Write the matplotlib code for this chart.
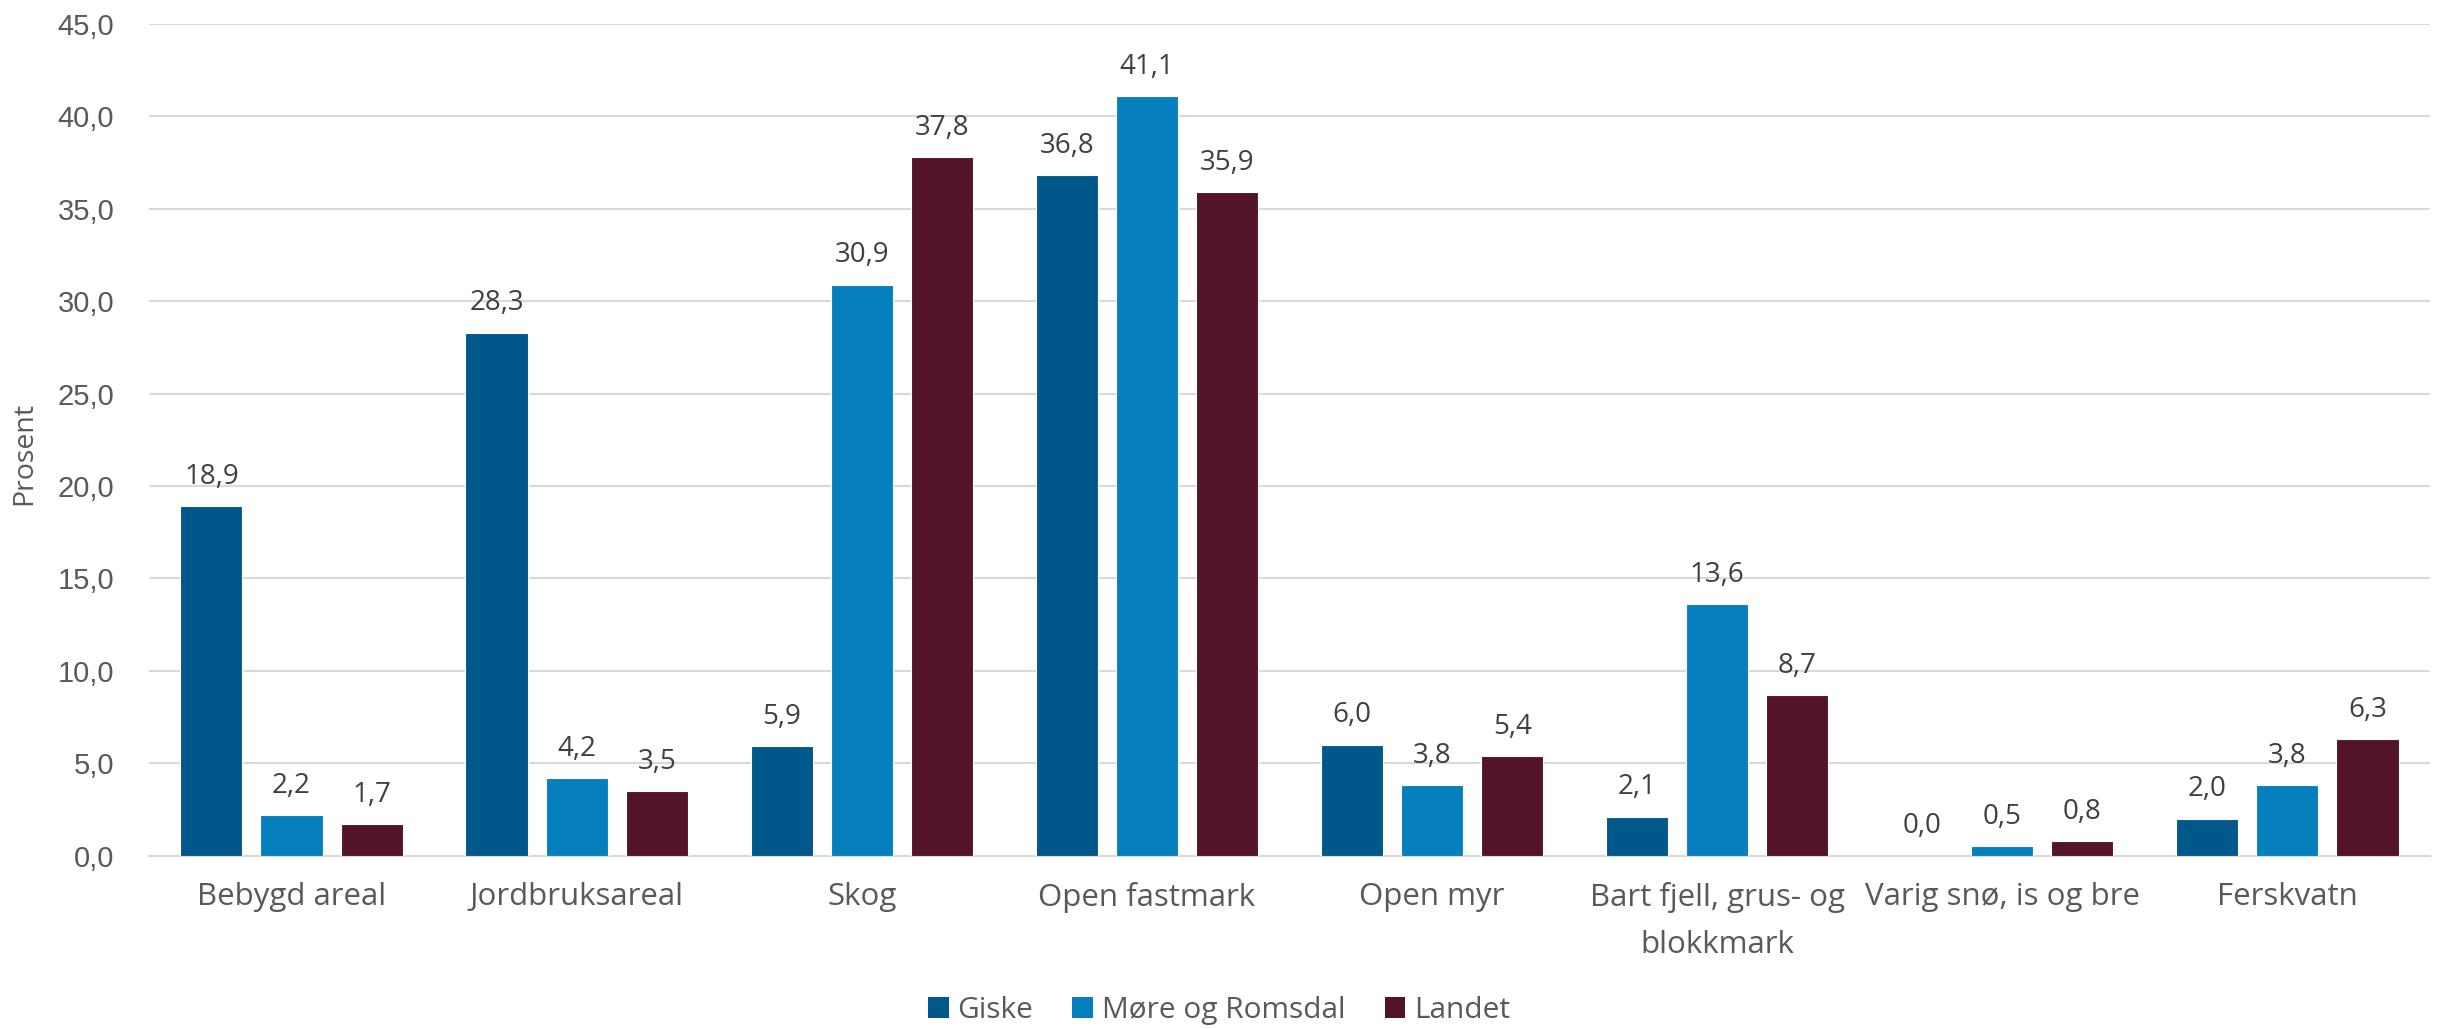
import matplotlib
matplotlib.use("Agg")
import matplotlib.pyplot as plt
import numpy as np
from matplotlib.patches import Patch

categories = ["Bebygd areal", "Jordbruksareal", "Skog", "Open fastmark", "Open myr",
              "Bart fjell, grus- og\nblokkmark", "Varig snø, is og bre", "Ferskvatn"]
series_names = ["Giske", "Møre og Romsdal", "Landet"]
giske = [18.9, 28.3, 5.9, 36.8, 6.0, 2.1, 0.0, 2.0]
more = [2.2, 4.2, 30.9, 41.1, 3.8, 13.6, 0.5, 3.8]
landet = [1.7, 3.5, 37.8, 35.9, 5.4, 8.7, 0.8, 6.3]
yticks = [0, 5, 10, 15, 20, 25, 30, 35, 40, 45]

colors = ["#00588A", "#0580BC", "#541427"]
label_font = ["Open Sans", "DejaVu Sans"]
tick_font = ["Liberation Sans", "DejaVu Sans"]

fig = plt.figure(figsize=(24.38, 10.29), dpi=100)
ax = fig.add_axes([0.0611, 0.1686, 0.9967 - 0.0611, 0.9767 - 0.1686])

x = np.arange(len(categories))
step = 0.281
width = 0.218
for i, (vals, c) in enumerate(zip([giske, more, landet], colors)):
    pos = x + (i - 1) * step
    ax.bar(pos, vals, width=width, color=c, edgecolor="white", linewidth=0.8, zorder=3)
    for p, v in zip(pos, vals):
        ax.annotate(f"{v:.1f}".replace(".", ","), (p, v), xytext=(0, 16), textcoords="offset points",
                    ha="center", va="baseline", fontsize=20, color="#404040", family=label_font)

ax.set_xlim(-0.5, len(categories) - 0.5)
ax.set_ylim(0, 45)
ax.set_yticks(yticks)
ax.set_yticklabels([f"{t:.1f}".replace(".", ",") for t in yticks], family=tick_font, fontsize=21, color="#595959")
ax.set_xticks(x)
ax.set_xticklabels(categories, family=label_font, fontsize=22.5, color="#595959", linespacing=1.75)
ax.tick_params(axis="both", length=0)
ax.tick_params(axis="y", pad=25)
ax.tick_params(axis="x", pad=19)
ax.grid(axis="y", color="#D9D9D9", linewidth=1.5, zorder=0)
ax.set_axisbelow(True)
for s in ["top", "right", "left"]:
    ax.spines[s].set_visible(False)
ax.spines["bottom"].set_color("#D9D9D9")
ax.spines["bottom"].set_linewidth(1.5)
ax.set_ylabel("Prosent", family=label_font, fontsize=20.5, color="#595959")
ax.yaxis.set_label_coords(-0.0485, 0.484)

handles = [Patch(facecolor=c, edgecolor="none") for c in colors]
leg = fig.legend(handles, series_names, loc="lower center", bbox_to_anchor=(0.5, -0.022), ncol=3,
                 frameon=False, handlelength=0.7, handleheight=0.7, handletextpad=0.3, columnspacing=1.3,
                 prop={"family": label_font, "size": 21.5})
for t in leg.get_texts():
    t.set_color("#595959")

fig.savefig("out.png", dpi=100)
